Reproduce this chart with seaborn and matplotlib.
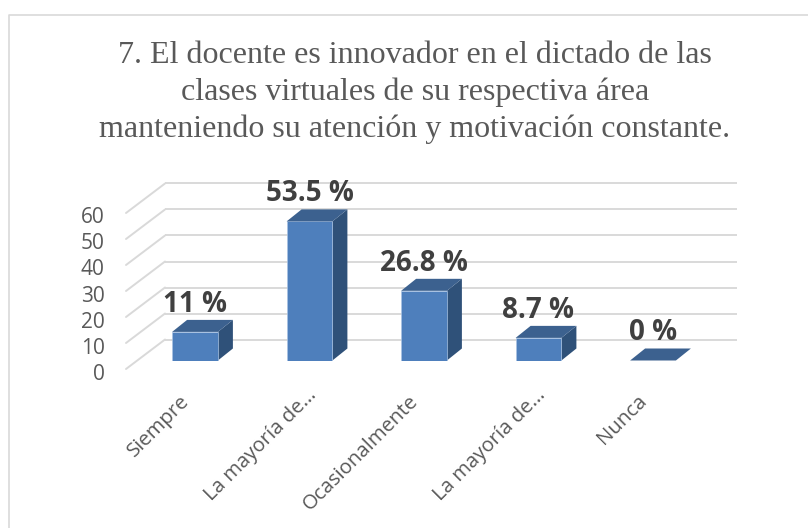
import matplotlib
matplotlib.use("Agg")
import matplotlib.pyplot as plt
import matplotlib.transforms as mtrans
from matplotlib.patches import Polygon
import seaborn as sns

# data
categorias = ["Siempre", "La mayoría de…", "Ocasionalmente", "La mayoría de…", "Nunca"]
posiciones = [0, 1, 2, 3, 4]
porcentajes = [11, 53.5, 26.8, 8.7, 0]
etiquetas = ["11 %", "53.5 %", "26.8 %", "8.7 %", "0 %"]
marcas_y = [0, 10, 20, 30, 40, 50, 60]
titulo = ["7. El docente es innovador en el dictado de las",
          "clases virtuales de su respectiva área",
          "manteniendo su atención y motivación constante."]

W, H = 808, 528
FRENTE = "#4e7fbc"
TECHO = "#3c618f"
LADO = "#2f5179"
GRID = "#d9d9d9"
TEXTO = "#595959"

sns.set_theme(style="white")
plt.rcParams["font.family"] = ["Open Sans", "DejaVu Sans"]

fig = plt.figure(figsize=(W / 100, H / 100), dpi=100)

# axes placed on the front plane of the bars: y=0 at 360.5 px, y=60 at 204.5 px
izq, der, abajo, arriba = 195 - 0.5 * 114.5, 653 + 0.5 * 114.5, 360.5, 204.5
ax = fig.add_axes([izq / W, 1 - abajo / H, (der - izq) / W, (abajo - arriba) / H])

sns.barplot(x=posiciones, y=porcentajes, color=FRENTE, saturation=1, width=0.4,
            ax=ax, zorder=3)
ax.set_xlim(-0.5, 4.5)
ax.set_ylim(0, 60)
sns.despine(ax=ax, left=True, bottom=True)
ax.patch.set_alpha(0)


def px(dx, dy):
    # offset in pixels, y going up
    return mtrans.ScaledTranslation(dx / 100, dy / 100, fig.dpi_scale_trans)


# back wall grid and the floor/wall diagonals
fondo = ax.get_yaxis_transform() + px(0, 21)
for v in marcas_y:
    ax.plot([(165 - izq) / (der - izq), (737 - izq) / (der - izq)], [v, v], color=GRID, lw=1.4,
            transform=fondo, clip_on=False, zorder=1, solid_capstyle="butt")
    a = ax.transData.transform((0, v))[1]
    fig.add_artist(plt.Line2D([126 / W, 165 / W],
                              [(a - 8.5) / H, (a + 21) / H],
                              color=GRID, lw=1.4, transform=fig.transFigure, zorder=1))

# 3D faces of each bar
DX, DY = 15, 12
for barra in ax.patches:
    x0, x1 = barra.get_x(), barra.get_x() + barra.get_width()
    alto = barra.get_height()
    barra.set_edgecolor("#a9c3e3")
    barra.set_linewidth(0.5)
    d = ax.transData
    (ax0, ay0) = d.transform((x1, 0))
    (ax1, ay1) = d.transform((x1, alto))
    (bx0, by0) = d.transform((x0, alto))
    inv = d.inverted()
    lado = [(x1, 0), (x1, alto), tuple(inv.transform((ax1 + DX, ay1 + DY))),
            tuple(inv.transform((ax0 + DX, ay0 + DY)))]
    techo = [(x0, alto), (x1, alto), tuple(inv.transform((ax1 + DX, ay1 + DY))),
             tuple(inv.transform((bx0 + DX, by0 + DY)))]
    ax.add_patch(Polygon(lado, closed=True, fc=LADO, ec="none", clip_on=False, zorder=2.9))
    ax.add_patch(Polygon(techo, closed=True, fc=TECHO, ec="none", clip_on=False, zorder=3.1))

# data labels
for pos, v, txt in zip(posiciones, porcentajes, etiquetas):
    ax.annotate(txt, (pos, v), xytext=(0, 27.5 * 0.72), textcoords="offset points",
                ha="center", va="center", fontsize=20, fontweight="bold",
                color="#404040", zorder=5, annotation_clip=False)

# ticks
ax.set_yticks(marcas_y)
ax.set_xticks(posiciones)
ax.set_xticklabels(categorias, rotation=45, ha="right", rotation_mode="anchor",
                   fontsize=14.7, color=TEXTO)
ax.tick_params(axis="both", length=0)
ax.tick_params(axis="y", labelsize=15, labelcolor=TEXTO, pad=0)
for lab in ax.get_yticklabels():
    lab.set_transform(lab.get_transform() + px(-33, -11))
for lab in ax.get_xticklabels():
    # the truncated labels sit a bit further right in the original
    if lab.get_text().endswith("…"):
        lab.set_transform(lab.get_transform() + px(-3, -20))
    else:
        lab.set_transform(lab.get_transform() + px(-16, -26))

for linea, y in zip(titulo, [63.3, 100.3, 137.3]):
    fig.text(415 / W, 1 - y / H, linea, ha="center", va="baseline", fontsize=23,
             family="Liberation Serif", color=TEXTO)

# chart frame: only the top and left edges show in the crop
fig.add_artist(plt.Line2D([9 / W, 9 / W, 1], [0, 1 - 14.5 / H, 1 - 14.5 / H], color=GRID, lw=1.2,
                          transform=fig.transFigure))

fig.savefig("out.png", dpi=100)
